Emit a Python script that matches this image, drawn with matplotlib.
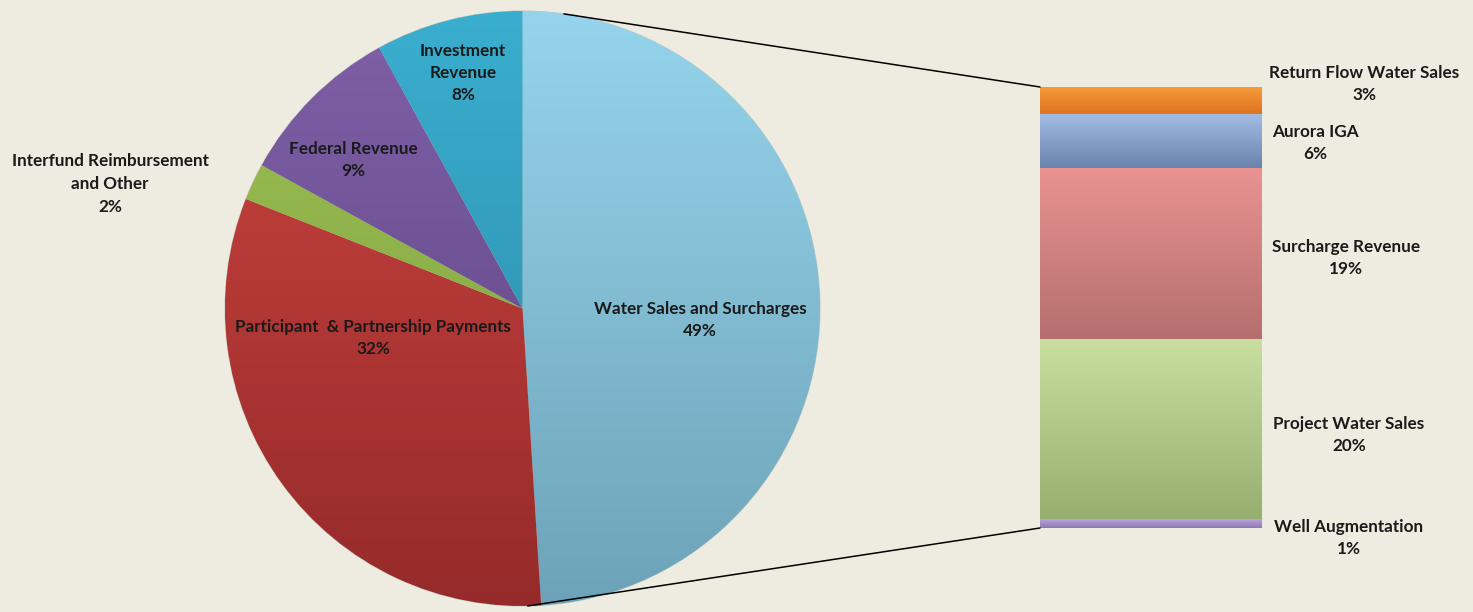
import numpy as np
import matplotlib
matplotlib.use("Agg")
import matplotlib.pyplot as plt
from matplotlib.colors import LinearSegmentedColormap
from matplotlib.patches import ConnectionPatch

# revenue sources (percent of total)
pie_labels = ["Water Sales and Surcharges", "Participant  & Partnership Payments",
              "Interfund Reimbursement\nand Other", "Federal Revenue", "Investment\nRevenue"]
pie_values = [49, 32, 2, 9, 8]

# breakdown of water sales and surcharges, bottom to top
bar_labels = ["Well Augmentation", "Project Water Sales", "Surcharge Revenue",
              "Aurora IGA", "Return Flow Water Sales"]
bar_values = [1, 20, 19, 6, 3]

pie_colors = [("#95D4EC", "#6DA3B8"), ("#CC4540", "#962A2A"), ("#9BC152", "#7E9E40"),
              ("#8060A8", "#5A4280"), ("#3AAECF", "#2A86A2")]
bar_colors = [("#B9A5DA", "#8D78B5"), ("#C8DFA0", "#97AF6E"), ("#E99391", "#B56F6E"),
              ("#A3BCE4", "#6A83AD"), ("#F59A3A", "#DD7420")]

BG = "#EEECE1"
W, H = 1473, 612
plt.rcParams["font.family"] = ["Lato", "DejaVu Sans"]

fig = plt.figure(figsize=(W / 100, H / 100), dpi=100, facecolor=BG)


def px_box(x0, y0, x1, y1):
    return [x0 / W, 1 - y1 / H, (x1 - x0) / W, (y1 - y0) / H]


def shade(ax, patch, top, bottom, extent):
    cmap = LinearSegmentedColormap.from_list("g", [top, bottom])
    grad = np.linspace(0, 1, 256)[:, None]
    im = ax.imshow(grad, cmap=cmap, extent=extent, aspect="auto",
                   origin="upper", zorder=1.5, interpolation="bilinear")
    im.set_clip_path(patch)


# main pie
ax_pie = fig.add_axes(px_box(225, 11, 820, 606))
ax_pie.set_facecolor("none")
wedges, _ = ax_pie.pie(pie_values, startangle=90, counterclock=False, radius=1,
                       colors=[c[0] for c in pie_colors],
                       wedgeprops=dict(linewidth=0))
for w, (top, bottom) in zip(wedges, pie_colors):
    shade(ax_pie, w, top, bottom, (-1, 1, -1, 1))
ax_pie.pie(pie_values, startangle=90, counterclock=False, radius=1,
           wedgeprops=dict(fill=False, edgecolor="#C9C9C0", linewidth=0.8))
ax_pie.set_xlim(-1, 1)
ax_pie.set_ylim(-1, 1)
ax_pie.set_aspect("equal")
ax_pie.axis("off")

# stacked breakdown bar
ax_bar = fig.add_axes(px_box(1040, 87, 1262, 528))
ax_bar.set_facecolor("none")
bottom_val = 0
for val, (top, bot) in zip(bar_values, bar_colors):
    rect = ax_bar.bar(0.5, val, width=1, bottom=bottom_val, color=top, linewidth=0)[0]
    shade(ax_bar, rect, top, bot, (0, 1, bottom_val, bottom_val + val))
    bottom_val += val
ax_bar.set_xlim(0, 1)
ax_bar.set_ylim(0, sum(bar_values))
ax_bar.axis("off")

# series lines from the pie to the bar
for ang, yb in [(8, sum(bar_values)), (179, 0)]:
    a = np.radians(ang)
    con = ConnectionPatch(xyA=(np.sin(a), np.cos(a)), coordsA=ax_pie.transData,
                          xyB=(0, yb), coordsB=ax_bar.transData,
                          color="black", linewidth=1.1)
    fig.add_artist(con)

# data labels
txt = dict(ha="center", va="center", fontsize=12.3, fontweight="bold",
           color="#1A1A1A", linespacing=1.5)
pie_pos = [(700, 320), (373, 338), (110, 184), (353, 160), (463, 73)]
for lab, val, (x, y) in zip(pie_labels, pie_values, pie_pos):
    fig.text(x / W, 1 - y / H, f"{lab}\n{val}%", **txt)

bar_pos = [(1349, 538), (1349, 435), (1346, 258), (1315, 143), (1364, 84)]
for lab, val, (x, y) in zip(bar_labels, bar_values, bar_pos):
    fig.text(x / W, 1 - y / H, f"{lab}\n{val}%", **txt)

fig.savefig("out.png", dpi=100, facecolor=BG)
